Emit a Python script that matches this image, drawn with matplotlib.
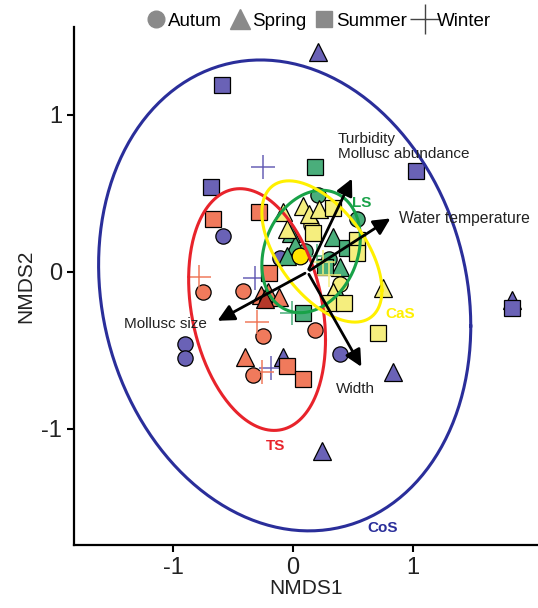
import numpy as np
import matplotlib
matplotlib.use("Agg")
import matplotlib.pyplot as plt
from matplotlib.lines import Line2D

plt.rcParams['font.family'] = ['Liberation Sans', 'DejaVu Sans']
plt.rcParams['axes.unicode_minus'] = False

# NMDS scores, per site group and season
cos_autum = [(-0.58, 0.23), (-0.90, -0.46), (-0.90, -0.55), (0.39, -0.52), (-0.11, 0.09)]
cos_spring = [(0.21, 1.40), (-0.08, -0.54), (0.83, -0.64), (0.24, -1.14), (1.82, -0.18)]
cos_summer = [(-0.59, 1.19), (1.02, 0.64), (-0.68, 0.54), (1.82, -0.23)]
cos_winter = [(-0.25, 0.67), (-0.32, -0.04), (-0.18, -0.61)]

ts_autum = [(-0.75, -0.13), (-0.42, -0.12), (-0.25, -0.41), (0.18, -0.37), (-0.33, -0.66)]
ts_spring = [(-0.27, -0.15), (-0.21, -0.13), (-0.12, -0.16), (-0.40, -0.54)]
ts_summer = [(-0.67, 0.34), (-0.28, 0.38), (-0.20, -0.01), (-0.05, -0.60), (0.08, -0.68)]
ts_winter = [(-0.78, -0.03), (-0.30, -0.32), (-0.26, -0.64)]
ts_centroid = (-0.23, -0.17)

ls_autum = [(0.21, 0.49), (0.53, 0.34), (0.10, 0.13), (0.30, 0.08)]
ls_spring = [(0.33, 0.22), (-0.02, 0.25), (0.02, 0.17), (0.39, 0.03), (0.35, -0.10), (-0.05, 0.10)]
ls_summer = [(0.18, 0.67), (0.08, -0.26), (0.27, 0.03), (0.45, 0.15)]
ls_winter = [(-0.01, -0.26), (0.20, 0.10)]

cas_autum = [(0.39, -0.08), (0.15, 0.30)]
cas_spring = [(-0.08, 0.38), (0.08, 0.42), (0.13, 0.37), (-0.05, 0.27), (0.75, -0.10),
              (0.33, -0.13), (0.22, 0.40)]
cas_summer = [(0.33, 0.41), (0.17, 0.25), (0.53, 0.20), (0.53, 0.12), (0.31, -0.20),
              (0.42, -0.20), (0.71, -0.39)]
cas_winter = [(0.25, 0.06), (0.30, -0.02)]
cas_centroid = (0.06, 0.10)

# ellipses: centre x, centre y, sd x, sd y, correlation
ellipses = {
    'CoS': (-0.07, -0.15, 1.55, 1.50, -0.13),
    'TS': (-0.30, -0.24, 0.57, 0.77, -0.25),
    'LS': (0.15, 0.13, 0.41, 0.39, 0.22),
    'CaS': (0.24, 0.13, 0.50, 0.45, -0.55),
}
ellipse_labels = {'CoS': (0.75, -1.63), 'TS': (-0.15, -1.11), 'LS': (0.57, 0.44), 'CaS': (0.89, -0.27)}

# environmental vectors
vec_origin = (0.12, 0.0)
vec_names = ['Turbidity\nMollusc abundance', 'Water temperature', 'Mollusc size', 'Width']
vec_tips = [(0.50, 0.61), (0.83, 0.35), (-0.65, -0.32), (0.58, -0.62)]

colors = {'CoS': '#6A62B6', 'TS': '#F07A5C', 'LS': '#4AAE7B', 'CaS': '#F5EE7E'}
line_colors = {'CoS': '#2A2E9A', 'TS': '#E8232B', 'LS': '#18A248', 'CaS': '#FFF000'}

groups = [
    ('CoS', cos_autum, cos_spring, cos_summer, cos_winter),
    ('TS', ts_autum, ts_spring, ts_summer, ts_winter),
    ('LS', ls_autum, ls_spring, ls_summer, ls_winter),
    ('CaS', cas_autum, cas_spring, cas_summer, cas_winter),
]

fig = plt.figure(figsize=(5.38, 6.08), dpi=100)
ax = fig.add_axes([0.1375, 0.1036, 0.8625, 0.852])

for name, au, sp, su, wi in groups:
    c = colors[name]
    for pts, mk, ms in [(au, 'o', 11), (sp, '^', 12.5), (su, 's', 11)]:
        a = np.array(pts)
        ax.plot(a[:, 0], a[:, 1], mk, ms=ms, mfc=c, mec='black', mew=0.9, ls='none')
    a = np.array(wi)
    ax.plot(a[:, 0], a[:, 1], '+', ms=17, mec=c, mew=1.1, ls='none')

ax.plot(*ts_centroid, '^', ms=12.5, mfc='#B5382A', mec='black', mew=0.9)
ax.plot(*cas_centroid, 'o', ms=12, mfc='#FFE600', mec='black', mew=0.9)

t = np.linspace(0, 2 * np.pi, 300)
for name, (cx, cy, sx, sy, rho) in ellipses.items():
    ex = cx + sx * np.cos(t)
    ey = cy + sy * (rho * np.cos(t) + np.sqrt(1 - rho ** 2) * np.sin(t))
    ax.plot(ex, ey, color=line_colors[name], lw=2.2)
    lx, ly = ellipse_labels[name]
    ax.text(lx, ly, name, color=line_colors[name], fontsize=11, fontweight='bold',
            ha='center', va='center')

for name, (tx, ty) in zip(vec_names, vec_tips):
    ax.annotate('', xy=(tx, ty), xytext=vec_origin,
                arrowprops=dict(arrowstyle='-|>', color='black', lw=2, mutation_scale=25))

ax.text(0.37, 0.80, vec_names[0], fontsize=11, ha='left', va='center', linespacing=1.1,
        color='#222222')
ax.text(0.88, 0.34, vec_names[1], fontsize=11.3, ha='left', va='center', color='#222222')
ax.text(-0.72, -0.33, vec_names[2], fontsize=11, ha='right', va='center', color='#222222')
ax.text(0.52, -0.70, vec_names[3], fontsize=11, ha='center', va='top', color='#222222')

ax.set_xlim(-1.825, 2.04)
ax.set_ylim(-1.74, 1.56)
ax.set_xticks([-1, 0, 1])
ax.set_yticks([-1, 0, 1])
ax.set_xlabel('NMDS1', fontsize=15, labelpad=0, color='#222222')
ax.set_ylabel('NMDS2', fontsize=15, labelpad=4, color='#222222')
ax.tick_params(labelsize=17, width=1.5, length=5, labelcolor='#222222')
for s in ['top', 'right']:
    ax.spines[s].set_visible(False)
for s in ['left', 'bottom']:
    ax.spines[s].set_linewidth(1.6)

gray = '#8A8A8A'
handles = [
    Line2D([], [], marker='o', ls='none', ms=12, mfc=gray, mec=gray),
    Line2D([], [], marker='^', ls='none', ms=14, mfc=gray, mec=gray),
    Line2D([], [], marker='s', ls='none', ms=12, mfc=gray, mec=gray),
    Line2D([], [], marker='+', ls='none', ms=22, mec='#444444', mew=1.0),
]
fig.legend(handles, ['Autum', 'Spring', 'Summer', 'Winter'], loc='center',
           bbox_to_anchor=(0.59, 0.965), ncol=4, frameon=False, fontsize=13.5,
           handletextpad=0.0, columnspacing=0.3, handlelength=1.3)

fig.savefig('out.png', dpi=100)
